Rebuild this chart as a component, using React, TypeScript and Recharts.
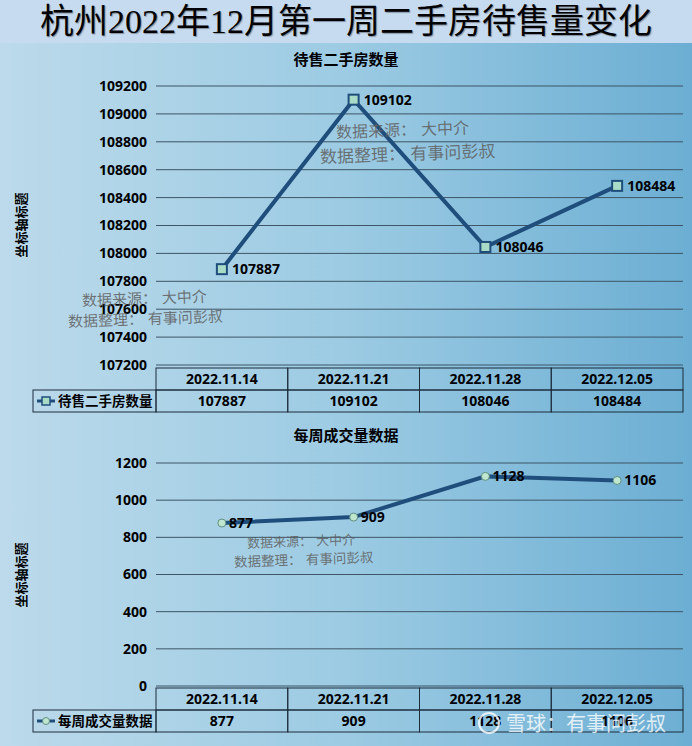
import React from 'react';
import { LineChart, Line, XAxis, YAxis, CartesianGrid, LabelList } from 'recharts';

const categories = ['2022.11.14', '2022.11.21', '2022.11.28', '2022.12.05'];
const listingCounts = [107887, 109102, 108046, 108484];
const dealCounts = [877, 909, 1128, 1106];
const listingTicks = [107200, 107400, 107600, 107800, 108000, 108200, 108400, 108600, 108800, 109000, 109200];
const dealTicks = [0, 200, 400, 600, 800, 1000, 1200];

const listingName = '待售二手房数量';
const dealName = '每周成交量数据';

const PLOT_LEFT = 156;
const PLOT_RIGHT = 9;
const CHART_W = 692;
const BAND = (CHART_W - PLOT_LEFT - PLOT_RIGHT) / categories.length;
const ROW_H = 22;
const LEGEND_W = 123;

const lineColor = '#1f4e7c';
const sansFont = '"Noto Sans", "Noto Sans CJK SC", sans-serif';

const listingRows = categories.map((c, i) => ({ date: c, value: listingCounts[i] }));
const dealRows = categories.map((c, i) => ({ date: c, value: dealCounts[i] }));

const SquareDot = (p: any) => (
  <rect key={`sq-${p.index}`} x={p.cx - 5} y={p.cy - 5} width={10} height={10}
    fill="#a9dcc6" stroke={lineColor} strokeWidth={2} />
);

const CircleDot = (p: any) => (
  <circle key={`ci-${p.index}`} cx={p.cx} cy={p.cy} r={4}
    fill="#bfe6cf" stroke="#5f8f80" strokeWidth={1} />
);

// draws the data table under the plot, one column per category tick
const makeTableTick = (values: number[], name: string, marker: 'square' | 'circle') => (props: any) => {
  const { x, y, payload } = props;
  const idx = payload.index ?? props.index;
  const left = x - BAND / 2;
  const cellStyle = { fill: 'none', stroke: '#1c2c3c', strokeWidth: 1 };
  const txt = { fontFamily: sansFont, fontSize: 14, fontWeight: 700, fill: '#000' } as any;
  return (
    <g>
      <rect x={left} y={y} width={BAND} height={ROW_H} {...cellStyle} />
      <rect x={left} y={y + ROW_H} width={BAND} height={ROW_H} {...cellStyle} />
      <text x={x} y={y + ROW_H / 2 + 5} textAnchor="middle" style={txt}>{payload.value}</text>
      <text x={x} y={y + ROW_H * 1.5 + 5} textAnchor="middle" style={txt}>{values[idx]}</text>
      {idx === 0 && (
        <g>
          <rect x={left - LEGEND_W} y={y + ROW_H} width={LEGEND_W} height={ROW_H} {...cellStyle} />
          <line x1={left - LEGEND_W + 4} x2={left - LEGEND_W + 22} y1={y + ROW_H * 1.5} y2={y + ROW_H * 1.5}
            stroke={lineColor} strokeWidth={3} />
          {marker === 'square' ? (
            <rect x={left - LEGEND_W + 9} y={y + ROW_H * 1.5 - 4} width={8} height={8}
              fill="#a9dcc6" stroke={lineColor} strokeWidth={1.5} />
          ) : (
            <circle cx={left - LEGEND_W + 13} cy={y + ROW_H * 1.5} r={3.5}
              fill="#bfe6cf" stroke="#5f8f80" strokeWidth={1} />
          )}
          <text x={left - LEGEND_W + 25} y={y + ROW_H * 1.5 + 5} style={{ ...txt, fontSize: 13.5 }}>{name}</text>
        </g>
      )}
    </g>
  );
};

const yTick = { fill: '#000', fontSize: 14, fontWeight: 700, fontFamily: sansFont };

const Watermark = ({ x, y, size, text }: { x: number; y: number; size: number; text: string }) => (
  <div style={{
    position: 'absolute', left: x, top: y, fontSize: size, color: 'rgba(95,95,95,0.85)',
    fontFamily: '"DejaVu Serif", "Noto Sans CJK SC", serif', whiteSpace: 'pre',
    transform: 'rotate(-2deg)', transformOrigin: 'left center', pointerEvents: 'none',
  }}>{text}</div>
);

const AxisTitle = ({ top }: { top: number }) => (
  <div style={{
    position: 'absolute', left: 20, top, transform: 'translate(-50%, -50%) rotate(-90deg)',
    fontSize: 13, fontWeight: 700, fontFamily: sansFont, whiteSpace: 'nowrap', color: '#000',
  }}>坐标轴标题</div>
);

const ChartTitle = ({ top, text }: { top: number; text: string }) => (
  <div style={{
    position: 'absolute', left: 0, width: CHART_W, top, textAlign: 'center',
    fontSize: 15, fontWeight: 700, fontFamily: sansFont, color: '#000',
  }}>{text}</div>
);

export default function App() {
  return (
    <div style={{
      position: 'absolute', left: 0, top: 0, width: 692, height: 746, overflow: 'hidden',
      background: 'linear-gradient(to right, #bcdaeb, #9ccbe3 50%, #6caed3)',
    }}>
      <div style={{
        position: 'absolute', left: 0, top: 0, width: 692, height: 43, background: '#c7dbf0',
        textAlign: 'center', fontFamily: '"Liberation Serif", "Noto Sans CJK SC", serif',
        fontSize: 34, lineHeight: '43px', color: '#000', textShadow: '1px 1px 1px rgba(0,0,0,0.35)',
      }}>杭州2022年12月第一周二手房待售量变化</div>

      <ChartTitle top={48} text={listingName} />
      <AxisTitle top={225} />
      <div style={{ position: 'absolute', left: 0, top: 42 }}>
        <LineChart width={CHART_W} height={380} data={listingRows}
          margin={{ top: 44, right: PLOT_RIGHT, bottom: 9, left: 0 }}>
          <CartesianGrid vertical={false} stroke="#3d5566" strokeWidth={1} />
          <XAxis dataKey="date" scale="band" height={48} interval={0} axisLine={false} tickLine={false}
            tickSize={3} tickMargin={0} tick={makeTableTick(listingCounts, listingName, 'square')} />
          <YAxis width={PLOT_LEFT} domain={[107200, 109200]} ticks={listingTicks} interval={0}
            axisLine={false} tickLine={false} tickMargin={3} tick={yTick} />
          <Line dataKey="value" stroke={lineColor} strokeWidth={4} isAnimationActive={false}
            dot={SquareDot} activeDot={false}>
            <LabelList dataKey="value" position="right" offset={10} fill="#000" fontSize={14}
              fontWeight={700} fontFamily={sansFont} />
          </Line>
        </LineChart>
      </div>
      <Watermark x={336} y={119} size={16} text={'数据来源： 大中介'} />
      <Watermark x={320} y={143} size={17} text={'数据整理： 有事问彭叔'} />
      <Watermark x={82} y={289} size={15} text={'数据来源： 大中介'} />
      <Watermark x={68} y={310} size={15} text={'数据整理： 有事问彭叔'} />

      <ChartTitle top={424} text={dealName} />
      <AxisTitle top={575} />
      <div style={{ position: 'absolute', left: 0, top: 420 }}>
        <LineChart width={CHART_W} height={326} data={dealRows}
          margin={{ top: 43, right: PLOT_RIGHT, bottom: 12, left: 0 }}>
          <CartesianGrid vertical={false} stroke="#3d5566" strokeWidth={1} />
          <XAxis dataKey="date" scale="band" height={48} interval={0} axisLine={false} tickLine={false}
            tickSize={2} tickMargin={0} tick={makeTableTick(dealCounts, dealName, 'circle')} />
          <YAxis width={PLOT_LEFT} domain={[0, 1200]} ticks={dealTicks} interval={0}
            axisLine={false} tickLine={false} tickMargin={3} tick={yTick} />
          <Line dataKey="value" stroke={lineColor} strokeWidth={4} isAnimationActive={false}
            dot={CircleDot} activeDot={false}>
            <LabelList dataKey="value" position="right" offset={7} fill="#000" fontSize={14}
              fontWeight={700} fontFamily={sansFont} />
          </Line>
        </LineChart>
      </div>
      <Watermark x={247} y={533} size={13} text={'数据来源： 大中介'} />
      <Watermark x={234} y={551} size={13.5} text={'数据整理： 有事问彭叔'} />

      <div style={{
        position: 'absolute', left: 478, top: 708, fontSize: 20, color: 'rgba(255,255,255,0.8)',
        fontFamily: '"Noto Sans CJK SC", sans-serif', whiteSpace: 'nowrap', display: 'flex', alignItems: 'center',
      }}>
        <span style={{
          display: 'inline-block', width: 22, height: 22, borderRadius: 11, border: '2px solid rgba(255,255,255,0.8)',
          marginRight: 6, boxSizing: 'border-box',
        }} />
        雪球：有事问彭叔
      </div>
    </div>
  );
}
